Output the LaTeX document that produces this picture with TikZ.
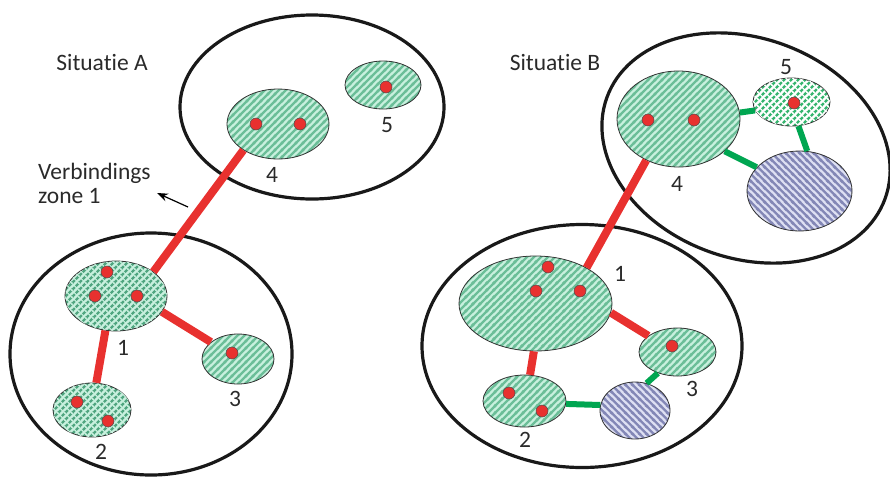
\documentclass[tikz,border=0pt]{standalone}
\usepackage{fontspec}
\setmainfont{Carlito}[Ligatures=NoCommon]
\usepackage{tikz}
\usetikzlibrary{arrows.meta}
\usetikzlibrary{shapes.geometric,patterns}
\definecolor{linkred}{HTML}{E8312F}
\definecolor{linkgreen}{HTML}{00A651}
\definecolor{mint}{HTML}{C8F0DE}
\definecolor{mintstripe}{HTML}{6BBE98}
\definecolor{checkstripe}{HTML}{4FA57F}
\definecolor{brightstripe}{HTML}{35B56E}
\definecolor{lilac}{HTML}{DEE0F3}
\definecolor{lilacstripe}{HTML}{8387B6}
\definecolor{textgrey}{HTML}{2A2A2A}
\tikzstyle{Arrow}=[-{Stealth[scale=1.3]}]

\pgfdeclarepatternformonly{StripeNE}{\pgfqpoint{0pt}{0pt}}{\pgfqpoint{7.3pt}{7.3pt}}{\pgfqpoint{7.3pt}{7.3pt}}{%
  \pgfsetlinewidth{2.6pt}%
  \pgfpathmoveto{\pgfqpoint{-2pt}{-2pt}}\pgfpathlineto{\pgfqpoint{9.3pt}{9.3pt}}%
  \pgfpathmoveto{\pgfqpoint{-2pt}{5.3pt}}\pgfpathlineto{\pgfqpoint{2pt}{9.3pt}}%
  \pgfpathmoveto{\pgfqpoint{5.3pt}{-2pt}}\pgfpathlineto{\pgfqpoint{9.3pt}{2pt}}%
  \pgfusepath{stroke}}
\pgfdeclarepatternformonly{StripeNW}{\pgfqpoint{0pt}{0pt}}{\pgfqpoint{7.3pt}{7.3pt}}{\pgfqpoint{7.3pt}{7.3pt}}{%
  \pgfsetlinewidth{2.6pt}%
  \pgfpathmoveto{\pgfqpoint{-2pt}{9.3pt}}\pgfpathlineto{\pgfqpoint{9.3pt}{-2pt}}%
  \pgfpathmoveto{\pgfqpoint{-2pt}{2pt}}\pgfpathlineto{\pgfqpoint{2pt}{-2pt}}%
  \pgfpathmoveto{\pgfqpoint{5.3pt}{9.3pt}}\pgfpathlineto{\pgfqpoint{9.3pt}{5.3pt}}%
  \pgfusepath{stroke}}
\pgfdeclarepatternformonly{BreakNW}{\pgfqpoint{0pt}{0pt}}{\pgfqpoint{7.3pt}{7.3pt}}{\pgfqpoint{7.3pt}{7.3pt}}{%
  \pgfsetlinewidth{1.2pt}%
  \pgfpathmoveto{\pgfqpoint{-2pt}{9.3pt}}\pgfpathlineto{\pgfqpoint{9.3pt}{-2pt}}%
  \pgfpathmoveto{\pgfqpoint{-2pt}{2pt}}\pgfpathlineto{\pgfqpoint{2pt}{-2pt}}%
  \pgfpathmoveto{\pgfqpoint{5.3pt}{9.3pt}}\pgfpathlineto{\pgfqpoint{9.3pt}{5.3pt}}%
  \pgfusepath{stroke}}

\begin{document}
\begin{tikzpicture}[
  x=1pt, y=-1pt,
  font=\fontsize{23.5}{24}\selectfont, text=textgrey,
  Zone/.style={ellipse, draw=black!90, line width=3.2pt, inner sep=0},
  Blob/.style={ellipse, draw=black!80, line width=0.8pt, inner sep=0},
  Area/.style={Blob, preaction={fill=mint}, pattern=StripeNE, pattern color=mintstripe},
  Check/.style={Blob, preaction={fill=mint}, pattern=StripeNE, pattern color=checkstripe,
    postaction={pattern=BreakNW, pattern color=mint}},
  Bright/.style={Blob, preaction={fill=white}, pattern=StripeNE, pattern color=brightstripe,
    postaction={pattern=BreakNW, pattern color=white}},
  Lilac/.style={Blob, preaction={fill=lilac}, pattern=StripeNW, pattern color=lilacstripe},
  Dot/.style={circle, fill=linkred, draw=black!70, line width=0.5pt, minimum size=12pt, inner sep=0},
  RedLink/.style={linkred, line width=8pt},
  GreenLink/.style={linkgreen, line width=6pt},
  Num/.style={inner sep=0}
]
\useasboundingbox (0,0) rectangle (890,477);

\node[Zone, minimum width=264pt, minimum height=184pt] (zA1) at (312,107) {};
\node[Zone, minimum width=282pt, minimum height=242pt] (zA2) at (151,354) {};
\node[Zone, minimum width=296pt, minimum height=220pt, rotate=-20] (zB1) at (746,148) {};
\node[Zone, minimum width=320pt, minimum height=243pt] (zB2) at (582,346) {};

\node[Num] (titA) at (102,62) {Situatie A};
\node[Num] (titB) at (555,62) {Situatie B};
\node[Num, anchor=north west, align=left] (vz) at (38,163) {Verbindings\\zone 1};
\coordinate (vzfoot) at (188,207);
\coordinate (vztip) at (157,193);
\draw[Arrow, line width=1.2pt] (vzfoot) -- (vztip);

\node[Area, minimum width=102pt, minimum height=70pt] (a4) at (278,124) {};
\node[Area, minimum width=76pt, minimum height=48pt] (a5) at (383,85) {};
\node[Check, minimum width=102pt, minimum height=70pt] (a1) at (116,296) {};
\node[Area, minimum width=72pt, minimum height=50pt] (a3) at (238,359) {};
\node[Check, minimum width=78pt, minimum height=54pt] (a2) at (92,410) {};

\node[Area, minimum width=123pt, minimum height=96pt] (b4) at (678.5,119) {};
\node[Bright, minimum width=77pt, minimum height=48pt] (b5) at (791.5,102) {};
\node[Lilac, minimum width=105pt, minimum height=80pt] (bb1) at (799.5,191) {};
\node[Area, minimum width=153pt, minimum height=95pt] (b1) at (535.5,303.5) {};
\node[Area, minimum width=77pt, minimum height=48pt] (b3) at (677.5,352) {};
\node[Area, minimum width=83pt, minimum height=52pt] (b2) at (524.5,401) {};
\node[Lilac, minimum width=70pt, minimum height=57pt] (bb2) at (635,410.5) {};

\draw[RedLink] (a4.217) -- (a1.33);
\draw[RedLink] (a1.253) -- (a2.81);
\draw[RedLink] (a1.341) -- (a3.148);

\draw[RedLink] (b4.232) -- (b1.35);
\draw[RedLink] (b1.268) -- (b2.78);
\draw[RedLink] (b1.353) -- (b3.151);
\draw[GreenLink] (b2.356) -- (bb2.171);
\draw[GreenLink] (bb2.67) -- (b3.227);
\draw[GreenLink] (b4.6) -- (b5.193);
\draw[GreenLink] (b5.286) -- (bb1.79);
\draw[GreenLink] (b4.325) -- (bb1.151);

\node[Dot] (a4d1) at (256,124) {};
\node[Dot] (a4d2) at (300,124) {};
\node[Dot] (a5d1) at (386,87) {};
\node[Dot] (a1d1) at (107,272) {};
\node[Dot] (a1d2) at (95,296) {};
\node[Dot] (a1d3) at (137,296) {};
\node[Dot] (a3d1) at (232,353) {};
\node[Dot] (a2d1) at (77,402) {};
\node[Dot] (a2d2) at (108,421) {};

\node[Dot] (b4d1) at (648,120) {};
\node[Dot] (b4d2) at (694,120) {};
\node[Dot] (b5d1) at (794,103) {};
\node[Dot] (b1d1) at (548,267) {};
\node[Dot] (b1d2) at (536,291) {};
\node[Dot] (b1d3) at (580,291) {};
\node[Dot] (b3d1) at (672,346) {};
\node[Dot] (b2d1) at (509,393) {};
\node[Dot] (b2d2) at (542,411) {};

\node[Num] (la4) at (272,175) {4};
\node[Num] (la5) at (387,125) {5};
\node[Num] (la1) at (123,348) {1};
\node[Num] (la3) at (235,399) {3};
\node[Num] (la2) at (101,452) {2};

\node[Num] (lb4) at (677,184) {4};
\node[Num] (lb5) at (786,67) {5};
\node[Num] (lb1) at (620,274) {1};
\node[Num] (lb3) at (692,389) {3};
\node[Num] (lb2) at (525,440) {2};

\end{tikzpicture}
\end{document}
